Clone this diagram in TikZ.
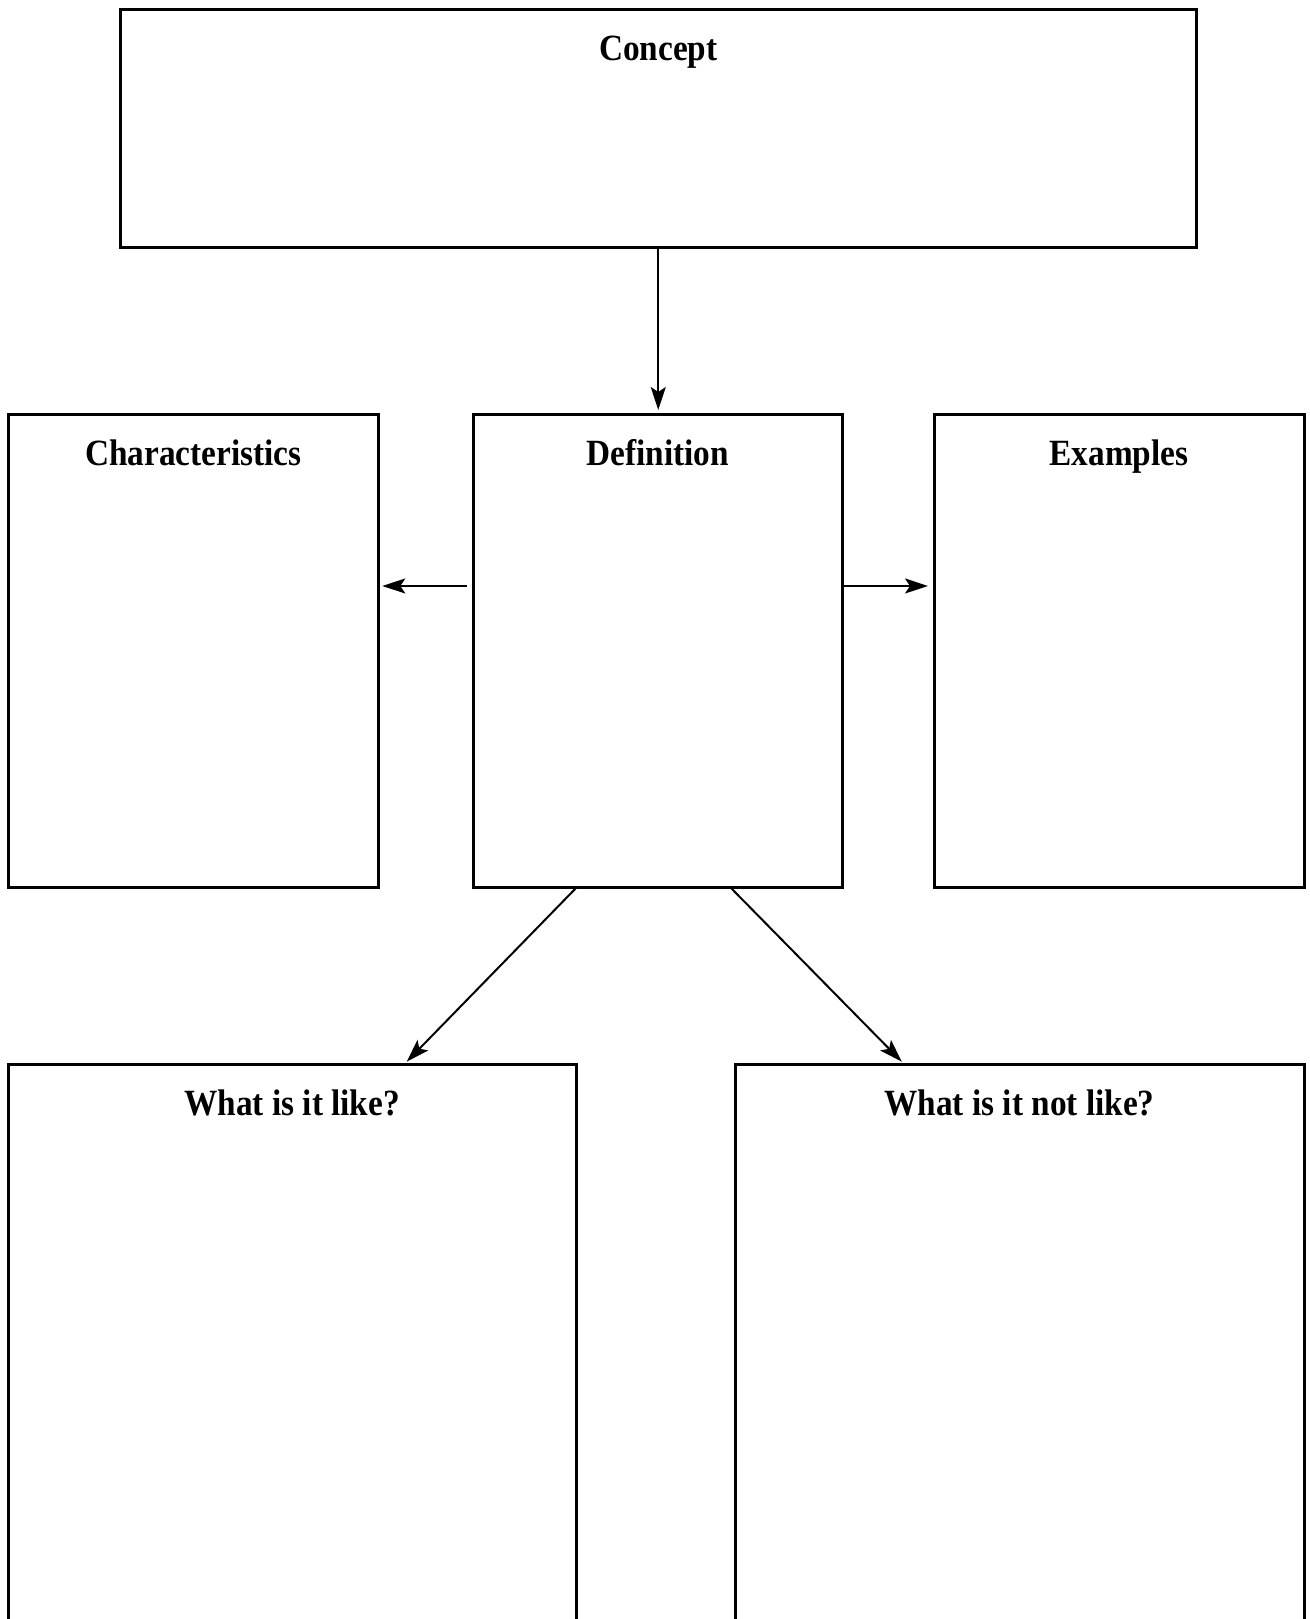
\documentclass[tikz,border=0pt]{standalone}
\usepackage{fontspec}
\newfontfamily\titlefont[FakeStretch=0.9]{Liberation Serif}
\usetikzlibrary{arrows.meta,calc}
\begin{document}
\begin{tikzpicture}[x=1pt,y=-1pt,
  box/.style={draw=black, line width=3pt, rectangle, anchor=north west, inner sep=0pt, outer sep=0pt},
  title/.style={anchor=base, inner sep=0pt, font=\titlefont\bfseries\fontsize{37}{40}\selectfont},
  arr/.style={line width=2pt, -{Stealth[length=23pt,width=15pt,inset=5pt]}}]
\useasboundingbox (0,0) rectangle (1309,1619);
\fill[white] (0,0) rectangle (1309,1619);
% boxes
\node[box, minimum width=1076.5pt, minimum height=238.5pt] (concept) at (120,9.3) {};
\node[box, minimum width=370pt, minimum height=473pt] (characteristics) at (8.3,414) {};
\node[box, minimum width=369.5pt, minimum height=473pt] (definition) at (473,414) {};
\node[box, minimum width=370pt, minimum height=473pt] (examples) at (934,414) {};
\node[box, minimum width=567.7pt, minimum height=650pt] (like) at (8.3,1064.5) {};
\node[box, minimum width=569pt, minimum height=650pt] (notlike) at (735,1064.5) {};
% titles
\node[title] (tconcept) at ([yshift=-51pt]concept.north) {Concept};
\node[title] (tchar) at ([yshift=-51pt]characteristics.north) {Characteristics};
\node[title] (tdef) at ([yshift=-51pt]definition.north) {Definition};
\node[title] (tex) at ([yshift=-51pt]examples.north) {Examples};
\node[title] (tlike) at ([yshift=-51pt]like.north) {What is it like?};
\node[title] (tnot) at ([yshift=-51pt]notlike.north) {What is it not like?};
% connector end points
\coordinate (dl) at ($(definition.north west)!0.3636!(definition.south west)$);
\coordinate (cr) at ($(characteristics.north east)!0.3636!(characteristics.south east)$);
\coordinate (dr) at ($(definition.north east)!0.3636!(definition.south east)$);
\coordinate (el) at ($(examples.north west)!0.3636!(examples.south west)$);
\coordinate (db1) at ($(definition.south west)!0.2815!(definition.south east)$);
\coordinate (db2) at ($(definition.south west)!0.6955!(definition.south east)$);
\coordinate (lt) at ($(like.north west)!0.697!(like.north east)$);
\coordinate (nt) at ($(notlike.north west)!0.298!(notlike.north east)$);
% connectors
\draw[arr, shorten >=4pt] (concept.south) -- (concept.south |- definition.north);
\draw[arr, shorten <=6pt, shorten >=4pt] (dl) -- (cr);
\draw[arr, shorten >=6pt] (dr) -- (el);
\draw[arr, shorten >=4pt] (db1) -- (lt);
\draw[arr, shorten >=4pt] (db2) -- (nt);
\end{tikzpicture}
\end{document}
